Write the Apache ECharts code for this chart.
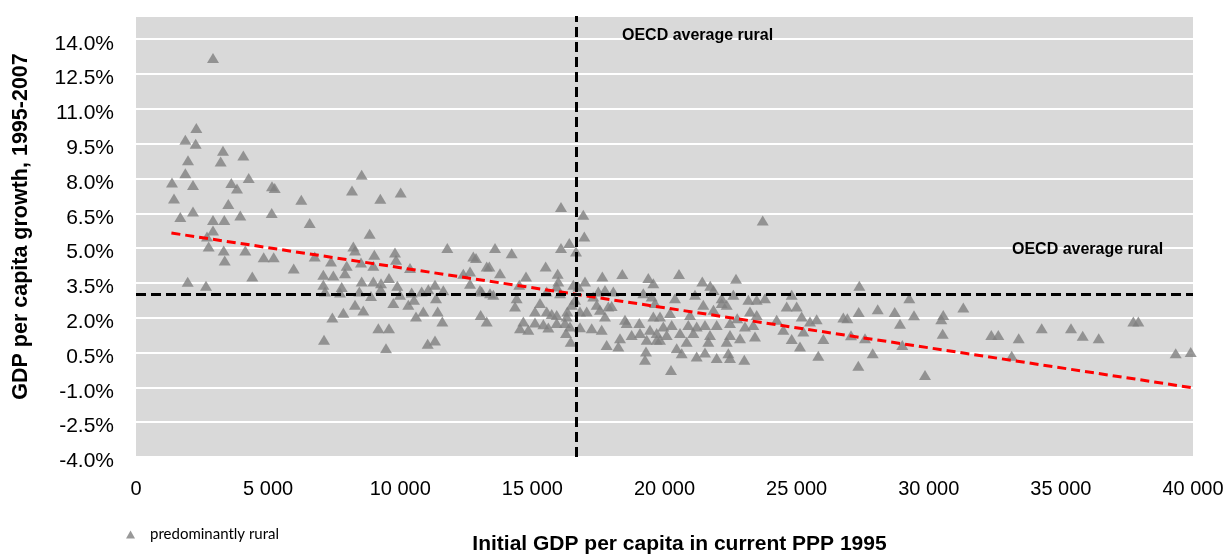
<!DOCTYPE html>
<html>
<head>
<meta charset="utf-8">
<script src="https://cdn.jsdelivr.net/npm/echarts@6/dist/echarts.min.js"></script>
<style>
html,body{margin:0;padding:0;background:#fff;}
#chart{width:1229px;height:559px;}
</style>
</head>
<body>
<div id="chart"></div>
<script>
// Predominantly rural regions: [initial GDP per capita 1995 (PPP), GDP per capita growth 1995-2007 (%)]
var ruralRegions = [
[2914,13.19],[2283,10.17],[1867,9.67],[2258,9.50],[1968,8.78],[3292,9.19],[3204,8.73],[4062,8.99],[1867,8.23],[1362,7.83],[2157,7.72],[3607,7.80],[3822,7.57],[4265,8.02],[5147,7.66],[5249,7.59],[1438,7.14],[6255,7.08],[3493,6.90],[1677,6.34],[2157,6.58],[3947,6.41],[5135,6.51],[2914,6.21],[3342,6.21],[6573,6.08],[2914,5.76],[2687,5.50],[2750,5.07],[3319,4.90],[3357,4.47],[4136,4.90],[4832,4.61],[5211,4.61],[5968,4.12],[6763,4.64],[1956,3.55],[2649,3.38],[4401,3.78],
[8540,8.16],[8174,7.48],[9246,7.13],[10016,7.40],[8842,5.62],[8225,5.07],[8288,4.90],[9019,4.71],[9801,4.81],[9839,4.50],[11781,5.00],[12765,4.64],[12867,4.57],[7379,4.42],[7973,4.24],[8515,4.38],[8981,4.24],[10369,4.14],[7909,3.92],[7089,3.85],[7468,3.82],[12387,3.89],[12641,3.99],[13272,4.21],[7089,3.42],[7152,3.13],[7784,3.32],[7720,3.09],[8540,3.56],[8451,3.13],[8981,3.56],[9272,3.49],[9260,3.23],[9574,3.71],[8893,2.94],[9889,3.38],[9990,2.99],[9737,2.63],[10305,2.56],[10432,3.09],[10520,2.77],[10811,3.13],[11062,3.23],[11315,3.42],[11353,2.84],[11630,3.18],[10873,2.27],[10596,2.05],[11417,2.27],[11592,1.84],[8288,2.56],[8602,2.31],[7847,2.22],[7430,2.01],[9171,1.55],[9574,1.55],[7115,1.05],[9461,0.69],[11038,0.88],[11315,1.02],[12640,3.46],[13018,3.20],[13043,2.12],[13272,1.84],
[16083,6.77],[16927,6.44],[16965,5.50],[16083,5.00],[16398,5.22],[16651,4.85],[13586,5.00],[14217,4.78],[15503,4.21],[13370,4.21],[13775,3.92],[14759,3.78],[15957,3.89],[15981,3.56],[14505,3.42],[16549,3.42],[16991,3.56],[17647,3.78],[18403,3.88],[19387,3.71],[19577,3.49],[13082,3.13],[13396,3.06],[13522,2.99],[15542,3.13],[16045,3.06],[16738,3.35],[17495,3.13],[17748,3.20],[18063,3.13],[19198,3.06],[19514,2.91],[14406,2.84],[14343,2.48],[15289,2.63],[15099,2.27],[15542,2.27],[15731,2.16],[15920,2.12],[16322,2.27],[16489,2.56],[16613,2.77],[16802,2.27],[17056,2.27],[17434,2.56],[17559,2.34],[17874,2.48],[17748,2.05],[18000,2.51],[14658,1.84],[14532,1.55],[14847,1.48],[15099,1.79],[15415,1.72],[15604,1.58],[15920,1.77],[16235,1.77],[16299,2.05],[16424,1.62],[16802,1.59],[17245,1.55],[17623,1.48],[16273,1.34],[16451,0.97],[17811,0.83],[18252,0.76],[18316,1.12],[18505,1.91],[18568,1.77],[18757,1.26],[19047,1.77],[19073,1.34],[19326,1.05],[19300,0.54],[19262,0.19],[19451,1.48],[19577,2.05],[19704,1.05],[15920,3.35],[17302,2.91],
[23716,6.19],[20549,3.88],[22706,3.68],[21430,3.56],[21731,3.38],[21854,3.20],[20397,2.84],[21154,2.99],[22164,2.84],[22605,2.99],[23173,2.77],[23489,2.77],[23803,2.84],[24813,2.99],[24624,2.48],[25002,2.48],[19640,2.63],[21468,2.56],[22164,2.63],[22353,2.56],[21854,2.34],[23236,2.27],[20965,2.12],[20208,2.20],[19830,2.05],[22752,1.98],[23489,2.12],[25191,2.05],[25506,1.84],[25758,1.94],[24245,1.91],[19955,1.62],[20272,1.69],[20901,1.69],[21218,1.62],[21532,1.69],[21975,1.69],[22479,1.77],[23046,1.62],[23361,1.69],[24496,1.48],[25253,1.41],[19704,1.34],[20082,1.26],[20587,1.34],[21091,1.34],[21722,1.26],[22479,1.26],[22857,1.12],[23424,1.19],[19830,1.05],[20839,0.97],[21658,0.97],[22353,0.97],[24813,1.08],[26011,1.08],[25128,0.76],[20461,0.69],[20650,0.47],[21218,0.33],[21532,0.50],[21975,0.26],[22416,0.47],[22479,0.26],[23020,0.19],[25820,0.36],[20246,-0.25],
[27372,3.38],[29264,2.84],[31308,2.44],[28068,2.37],[27349,2.25],[28712,2.25],[29442,2.11],[26767,2.01],[26919,1.98],[30549,2.12],[30473,1.94],[28912,1.74],[30527,1.31],[27058,1.25],[27588,1.12],[32367,1.26],[32632,1.26],[28999,0.83],[27879,0.47],[27334,-0.07],[29858,-0.47],
[37742,1.84],[37931,1.84],[34274,1.55],[35383,1.55],[35826,1.22],[36431,1.12],[33404,1.12],[33139,0.36],[39345,0.47],[39913,0.52]
];
// Linear trend line end points
var trendLine = [[1340, 5.65], [40000, -1.02]];
// OECD average rural reference values
var oecdAvgGDP = 16670;
var oecdAvgGrowth = 3.0;
// Axis ticks
var xTicks = {min: 0, max: 40000, step: 5000};
var yTicks = {min: -4, max: 15, step: 1.5};
var seriesName = 'predominantly rural';
var annotationText = 'OECD average rural';

var chart = echarts.init(document.getElementById('chart'), null, {renderer: 'canvas'});
function fmtThousands(v) {
  return String(v).replace(/\B(?=(\d{3})+(?!\d))/g, ' ');
}
var option = {
  animation: false,
  backgroundColor: '#ffffff',
  grid: {
    left: 136, right: 36, top: 16, bottom: 102,
    outerBoundsMode: 'none', containLabel: false,
    show: true, backgroundColor: '#d9d9d9', borderWidth: 0
  },
  legend: {
    data: [{name: seriesName, icon: 'triangle'}],
    left: 121, top: 522,
    itemWidth: 9, itemHeight: 8,
    textStyle: {fontFamily: 'Lato, sans-serif', fontSize: 15, color: '#000', padding: [0, 0, 0, 10]}
  },
  xAxis: {
    type: 'value', min: xTicks.min, max: xTicks.max, interval: xTicks.step,
    name: 'Initial GDP per capita in current PPP 1995',
    nameLocation: 'middle', nameGap: 77,
    nameTextStyle: {fontFamily: '"Liberation Sans", Arial, sans-serif', fontWeight: 'bold', fontSize: 21, color: '#000', padding: [0, 0, 0, 30]},
    axisLine: {show: false}, axisTick: {show: false}, splitLine: {show: false},
    axisLabel: {
      margin: 22, color: '#000', fontSize: 20,
      fontFamily: '"Liberation Sans", Arial, sans-serif',
      formatter: function (v) { return fmtThousands(v); }
    }
  },
  yAxis: {
    type: 'value', min: yTicks.min, max: yTicks.max, interval: yTicks.step,
    name: 'GDP per capita growth, 1995-2007',
    nameLocation: 'middle', nameGap: 104,
    nameTextStyle: {fontFamily: '"Liberation Sans", Arial, sans-serif', fontWeight: 'bold', fontSize: 21.5, color: '#000', padding: [0, 0, 0, 20]},
    axisLine: {show: false}, axisTick: {show: false},
    splitLine: {show: true, lineStyle: {color: '#ffffff', width: 2}},
    axisLabel: {
      margin: 22, color: '#000', fontSize: 21, showMaxLabel: false,
      verticalAlign: 'top', lineHeight: 9,
      fontFamily: '"Liberation Sans", Arial, sans-serif',
      formatter: function (v) { return v.toFixed(1) + '%'; }
    }
  },
  series: [
    {
      name: seriesName, type: 'scatter', data: ruralRegions,
      symbol: 'triangle', symbolSize: [12, 10],
      itemStyle: {color: '#7f7f7f'}, z: 2
    },
    {
      name: 'trend', type: 'line', data: trendLine, showSymbol: false, symbol: 'none',
      lineStyle: {color: '#ff0000', width: 3, type: [9, 5]}, z: 4
    },
    {
      name: 'oecd', type: 'scatter', data: [], z: 3,
      markLine: {
        silent: true, symbol: 'none', animation: false,
        lineStyle: {color: '#000000', width: 3, type: [10, 5]},
        label: {show: false},
        data: [{xAxis: oecdAvgGDP}, {yAxis: oecdAvgGrowth}]
      }
    }
  ],
  graphic: [
    {type: 'text', z: 100, left: 622, top: 28, style: {text: annotationText, font: 'bold 16px "Liberation Sans", Arial, sans-serif', fill: '#000'}},
    {type: 'text', z: 100, left: 1012, top: 242, style: {text: annotationText, font: 'bold 16px "Liberation Sans", Arial, sans-serif', fill: '#000'}}
  ]
};
chart.setOption(option);
</script>
</body>
</html>
